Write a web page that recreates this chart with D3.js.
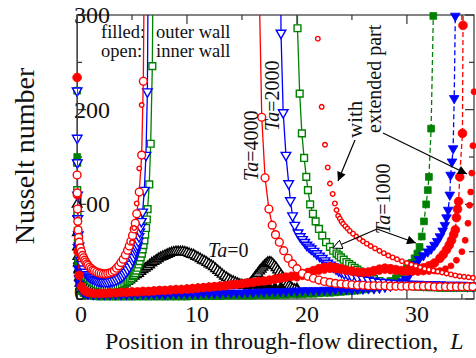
<!DOCTYPE html>
<html><head><meta charset="utf-8">
<script src="https://cdn.jsdelivr.net/npm/d3@7"></script>
<style>
body{margin:0;background:#fff}
svg{display:block}
text{font-family:"Liberation Serif","Times New Roman",serif;fill:#111}
</style>
</head><body>
<svg id="chart" width="476" height="358"></svg>
<script>
// Tick values
const xTicks = [0, 10, 20, 30];
const xMinorTicks = [5, 15, 25, 35];
const yTicks = [0, 100, 200, 300];
const yMinorTicks = [50, 150, 250];

// Nusselt number along the channel, [L, Nu]; values above 300 run off the top
// Ta = 0 (black triangles)
const ta0Inner = [[0,500],[0.01,100],[0.03,70],[0.05,55],[0.08,45],[0.12,38],[0.18,32],[0.25,27],[0.35,23],[0.45,20],[0.55,17.5],[0.7,15],[0.85,13.5],[1.0,12],[1.2,11],[1.4,10],[1.6,9.5],[1.8,9],[2.0,8.5],[2.2,8.5],[2.4,8.5],[2.6,8.5],[2.8,9],[3.0,9.5],[3.2,10],[3.4,11],[3.6,12],[3.8,13],[4.0,14],[4.2,15.5],[4.4,17],[4.6,18.5],[4.8,20],[5.0,22],[5.2,24],[5.4,25.5],[5.6,27],[5.8,29],[6.0,31],[6.2,32.5],[6.4,34],[6.6,36],[6.8,38],[7.0,39.5],[7.2,41],[7.4,42.5],[7.6,44],[7.8,45],[8.0,46],[8.2,47],[8.4,48],[8.6,49],[8.8,49.5],[9.0,50],[9.2,50],[9.4,50],[9.6,50],[9.8,49.5],[10.0,49],[10.2,48],[10.4,47],[10.6,46.5],[10.8,45],[11.0,44],[11.2,42.5],[11.4,41],[11.6,40],[11.8,38.5],[12.0,37],[12.2,35.5],[12.4,34],[12.6,32],[12.8,30],[13.0,28],[13.2,26],[13.4,24],[13.6,22.5],[13.8,21],[14.0,19.5],[14.2,18.5],[14.4,17.5],[14.6,16.5],[14.8,15.5],[15.0,15],[15.2,14.5],[15.4,14.5],[15.55,15],[15.7,16],[15.85,18],[16.0,20],[16.15,22.5],[16.3,25],[16.45,27],[16.6,29.5],[16.75,31.5],[16.9,33.5],[17.05,35.5],[17.2,37],[17.35,38.5],[17.5,39],[17.65,38.5],[17.8,37],[17.95,35],[18.1,33],[18.25,30.5],[18.4,28],[18.55,25.5],[18.7,23],[18.85,20.5],[19.0,18],[19.15,16],[19.3,14],[19.45,12.5],[19.6,11],[19.8,10],[20.0,9]];
const ta0Outer = [[0,500],[0.01,90],[0.03,55],[0.05,40],[0.08,30],[0.12,22],[0.18,16],[0.25,13],[0.35,10],[0.5,8],[0.65,7],[0.8,6],[1.0,5.5],[1.2,5],[1.5,4.5],[2.0,4.5],[2.5,4.5],[3.0,5],[3.5,5],[4.0,5.5],[4.5,5.5],[5.0,6],[5.5,6],[6.0,6.5],[6.5,6.5],[7.0,7],[7.5,7.5],[8.0,8],[8.5,8.5],[9.0,9],[9.5,9.5],[10.0,10],[10.5,10.5],[11.0,11],[11.5,11.5],[12.0,12],[12.5,12.5],[13.0,13],[13.5,13.5],[14.0,14],[14.5,14],[15.0,14],[15.5,14],[16.0,14],[16.5,13.5],[17.0,13.5],[17.5,13],[18.0,13],[18.5,12.5],[19.0,12.5],[19.5,12],[20.0,12]];

// Ta = 1000 (green squares)
const ta1000InnerA = [[0,500],[0.01,144],[0.02,115],[0.04,90],[0.07,72],[0.1,60],[0.15,51],[0.2,45],[0.28,40],[0.35,36],[0.45,32.5],[0.55,29.5],[0.7,26],[0.85,23.5],[1.0,21.5],[1.15,20],[1.3,18.5],[1.5,17],[1.7,16],[1.9,15],[2.1,14.5],[2.3,14],[2.5,13.5],[2.7,13],[2.9,13],[3.1,13],[3.3,13],[3.5,13.5],[3.7,14],[3.9,14.5],[4.1,15.5],[4.3,16.5],[4.5,17.5],[4.65,19],[4.8,20.5],[4.95,22],[5.1,24],[5.2,25.5],[5.3,27.5],[5.4,30],[5.5,33],[5.6,36.5],[5.7,40],[5.8,44],[5.9,48],[5.98,52.5],[6.05,57],[6.13,62],[6.2,68],[6.28,75],[6.35,84],[6.42,95],[6.57,121],[6.7,164],[6.85,246],[6.95,500]];
const ta1000InnerB = [[20.0,500],[20.05,286],[20.25,217],[20.45,175],[20.65,149],[20.85,129],[21.0,115],[21.2,100],[21.45,90],[21.7,82],[22.0,74],[22.3,67],[22.65,60],[23.0,55],[23.3,51],[23.6,48],[23.8,46],[24.0,44],[24.25,41.5],[24.5,39],[24.75,37],[25.0,35],[25.25,33],[25.5,31],[25.75,29],[26.0,27],[26.25,25.5],[26.5,24],[26.75,22.5],[27.0,21],[27.5,19],[28.0,17],[28.5,16],[29.0,15],[29.5,14.5],[30.0,14],[30.5,13.5],[31.0,13],[31.5,13],[32.0,12.5],[32.5,12.5],[33.0,12],[33.5,12],[34.0,12],[34.5,12],[35.0,12],[35.5,12],[36.0,12]];
const ta1000Outer = [[0,500],[0.01,220],[0.02,150],[0.04,90],[0.06,60],[0.1,38],[0.15,25],[0.22,17],[0.3,12],[0.45,8],[0.6,6],[0.8,5],[1.0,4],[1.5,3],[2,2.5],[2.5,2.5],[3,2.5],[3.5,2.5],[4,2.5],[4.5,2.5],[5,2.5],[5.5,2.5],[6,2.5],[6.5,2.5],[7,2.5],[7.5,2.5],[8,2.5],[8.5,2.5],[9,2.5],[9.5,2.5],[10,2.5],[10.5,3],[11,3],[11.5,3],[12,3],[12.5,3],[13,3],[13.5,3.5],[14,3.5],[14.5,3.5],[15,3.5],[15.5,3.5],[16,3.5],[16.5,4],[17,4],[17.5,4],[18,4],[18.5,4.5],[19,4.5],[19.5,5],[20,5],[20.5,5],[21,5.5],[21.5,5.5],[22,6],[22.5,6.5],[23,6.5],[23.5,7],[24,7.5],[24.5,8],[25,8.5],[25.5,9],[26,10],[26.5,11],[27,12],[27.5,14],[28,16],[28.5,19],[29,22],[29.5,27],[30,33],[30.4,38],[30.7,43],[30.95,48],[31.15,55],[31.35,66],[31.55,82],[31.75,100],[31.9,115],[32.0,129],[32.2,180],[32.4,299],[32.5,500]];

// Ta = 2000 (blue triangles)
const ta2000InnerA = [[0,500],[0.01,220],[0.02,170],[0.03,144],[0.05,110],[0.08,85],[0.12,68],[0.18,56],[0.25,48],[0.35,41],[0.45,36.5],[0.6,32],[0.75,28.5],[0.9,26],[1.05,24.5],[1.2,23],[1.4,21.5],[1.6,20.5],[1.8,19.5],[2.0,19],[2.2,18.5],[2.4,18],[2.6,18],[2.8,18],[3.0,18.5],[3.2,19],[3.4,19.5],[3.6,20.5],[3.8,21.5],[4.0,23],[4.15,24.5],[4.3,26.5],[4.45,28.5],[4.6,31],[4.75,34],[4.9,37],[5.05,41],[5.15,44],[5.27,48],[5.35,51],[5.42,54],[5.5,57],[5.57,61],[5.64,66],[5.7,71],[5.78,76],[5.85,82],[5.97,92],[6.12,115],[6.27,152],[6.4,219],[6.5,500]];
const ta2000InnerB = [[18.5,500],[18.55,281],[18.75,197],[19.0,152],[19.25,122],[19.4,104],[19.6,88],[19.8,78],[20.1,70],[20.3,66],[20.5,63],[20.7,60],[20.9,57],[21.1,55],[21.3,53],[21.55,50.5],[21.8,48],[22.05,45.5],[22.3,43],[22.55,40.5],[22.8,38],[23.05,36],[23.3,34],[23.55,32],[23.8,30],[24.05,28.5],[24.3,27],[24.65,25.5],[25.0,24],[25.5,22.5],[26.0,21],[26.5,20],[27.0,19],[27.5,18],[28.0,17.5],[28.5,17],[29.0,16.5],[29.5,16],[30.0,16],[30.5,15.5],[31.0,15.5],[31.5,15],[32.0,15],[32.5,15],[33.0,15],[33.5,14.5],[34.0,14.5],[34.5,14.5],[35.0,14.5],[35.5,14],[36.0,14]];
const ta2000Outer = [[0,500],[0.01,144],[0.03,85],[0.05,55],[0.1,32],[0.15,22],[0.22,16],[0.3,12],[0.45,9],[0.6,7],[0.8,6],[1,5],[1.5,4.5],[2,4.5],[2.5,4.5],[3,4.5],[3.5,4.5],[4,4.5],[4.5,4.5],[5,4.5],[5.5,5],[6,5],[6.5,5],[7,5],[7.5,5],[8,5],[8.5,5.5],[9,5.5],[9.5,5.5],[10,5.5],[10.5,5.5],[11,5.5],[11.5,6],[12,6],[12.5,6],[13,6],[13.5,6.5],[14,6.5],[14.5,6.5],[15,6.5],[15.5,7],[16,7],[16.5,7.5],[17,7.5],[17.5,8],[18,8],[18.5,8],[19,8],[19.5,8.5],[20,8.5],[20.5,9],[21,9],[21.5,9],[22,9],[22.5,9.5],[23,9.5],[23.5,10],[24,10],[24.5,10],[25,10],[25.5,10.5],[26,10.5],[26.5,11],[27,11],[27.5,11.5],[28,12.5],[28.5,13.5],[29,15],[29.3,16.5],[29.6,18.5],[29.9,21],[30.2,25],[30.5,31],[30.8,37],[31.1,42],[31.5,46],[31.9,50],[32.2,53],[32.5,57],[32.75,61],[33,66],[33.25,72],[33.45,78],[33.6,86],[33.75,94],[33.9,110],[33.97,131],[34.1,145],[34.2,159],[34.3,212],[34.4,299],[34.5,500]];

// Ta = 4000 (red circles)
const ta4000InnerA = [[0,500],[0.01,131],[0.02,112],[0.04,95],[0.07,82],[0.1,73],[0.15,65],[0.2,60],[0.3,54],[0.4,50],[0.5,46],[0.6,43.5],[0.7,41],[0.8,39],[0.9,37],[1.0,35.5],[1.15,33.5],[1.3,32],[1.45,30.5],[1.6,29.5],[1.8,28.5],[2.0,27.5],[2.2,27],[2.4,26.5],[2.6,26.5],[2.8,27],[3.0,27.5],[3.2,28.5],[3.4,30],[3.6,32.5],[3.8,35],[4.0,38.5],[4.2,42],[4.4,46.5],[4.6,51.5],[4.75,56],[4.9,61],[5.05,67],[5.2,74],[5.3,80],[5.43,90],[5.66,113],[5.88,152],[6.03,230],[6.15,500]];
const ta4000InnerB = [[16.45,500],[16.8,192],[17.1,128],[17.45,95],[17.75,78],[18.05,68],[18.4,60],[18.8,51],[19.2,43],[19.6,37],[20.0,32],[20.5,27],[21.0,24],[21.5,22],[22.0,20],[22.5,18.5],[23.0,17.5],[23.5,16.5],[24.0,16],[24.5,15.5],[25.0,15],[25.5,14.5],[26.0,14.5],[26.5,14],[27.0,14],[27.5,14],[28.0,14],[28.5,13.5],[29.0,13.5],[29.5,13.5],[30.0,13.5],[30.5,13.5],[31.0,13.5],[31.5,13.5],[32.0,13.5],[32.5,13],[33.0,13],[33.5,13],[34.0,13],[34.5,13],[35.0,13],[35.5,13],[36.0,13]];
const ta4000Outer = [[0,500],[0.01,234],[0.04,110],[0.1,50],[0.2,25],[0.4,13],[0.7,8.5],[1.0,7],[1.5,6],[2.0,6],[2.5,6],[3,6.5],[3.5,6.5],[4,7],[4.5,7],[5,7.5],[5.5,7.5],[6,8],[6.5,8],[7,8.5],[7.5,9],[8,9],[8.5,9.5],[9,10],[9.5,10],[10,10.5],[10.5,11],[11,11.5],[11.5,12],[12,12.5],[12.5,13],[13,13.5],[13.5,14],[14,15],[14.5,15.5],[15,16],[15.5,17],[16,17.5],[16.5,18.5],[17,19],[17.5,20],[18,21],[18.5,22],[19,23],[19.5,24],[20,25],[20.5,26.5],[21,28],[21.5,30],[22,32],[22.5,33.5],[23,34],[23.5,33.5],[24,32],[24.5,30.5],[25,29.5],[25.5,28.5],[26,28],[26.5,28.5],[27,30],[27.5,31.5],[28,32.5],[28.5,32],[29,31],[29.5,30],[30,30],[30.5,30.5],[31,31.5],[31.5,33],[32,35],[32.5,38],[33,43],[33.3,47],[33.6,52],[33.85,57],[34.05,62],[34.25,68],[34.4,73],[34.5,86],[34.6,95],[34.7,103],[34.8,129],[35.05,175],[35.1,289],[35.2,500]];

// Ta = 4000 with the extended part (small red circles)
const extInnerA = [[5.0,60],[5.2,75],[5.43,101],[5.66,138],[5.88,205]];
const extInnerB = [[21.9,275],[22.25,203],[22.55,163],[22.8,139],[23.0,122],[23.25,111],[23.45,101],[23.6,94],[23.75,88],[23.9,85],[24.05,82],[24.2,79.5],[24.4,77],[24.6,74.5],[24.8,72],[25.1,69],[25.4,66],[25.7,63.5],[26.0,61],[26.35,58.5],[26.7,56],[27.1,53.5],[27.5,51],[27.9,48.5],[28.3,46],[28.7,44],[29.1,42],[29.55,40],[30.0,38],[30.4,36.5],[30.8,35],[31.2,33.5],[31.6,32],[32.0,31],[32.4,30],[32.8,29],[33.2,28],[33.6,27],[34.0,26],[34.4,25],[34.8,24],[35.2,23.5],[35.6,23],[36.0,22.5]];
const extOuter = [[20,22],[20.5,23.5],[21,25],[21.5,27],[22,29],[22.5,30],[23,31],[23.5,30.5],[24,30],[24.5,29],[25,28.5],[25.5,28],[26,27.5],[26.5,27.5],[27,28],[27.5,29],[28,30],[28.5,29.5],[29,29],[29.5,28.5],[30,28],[30.5,28],[31,28],[31.5,28.5],[32,29],[32.5,29.5],[33,30],[33.5,32],[34,35],[34.5,41],[35,50],[35.3,62],[35.55,80],[35.7,99],[35.8,113],[35.9,133],[36.0,162],[36.1,219]];

const svg = d3.select("#chart");
const x = d3.scaleLinear().domain([0, 36.1]).range([77, 474]);
const y = d3.scaleLinear().domain([0, 300]).range([299, 15]);

const defs = svg.append("defs");
defs.append("clipPath").attr("id", "plot")
  .append("rect").attr("x", 77).attr("y", 15).attr("width", 397).attr("height", 284);

// frame and ticks (ticks point inward), drawn beneath the data
const axisColor = "#333";
svg.append("rect").attr("x", 77).attr("y", 15).attr("width", 397).attr("height", 284)
  .attr("fill", "none").attr("stroke", axisColor).attr("stroke-width", 1.2);
const tickG = svg.append("g").attr("stroke", axisColor).attr("stroke-width", 1.2);
[[xTicks, 9], [xMinorTicks, 5]].forEach(([vals, len]) => vals.forEach(v => {
  tickG.append("line").attr("x1", x(v)).attr("x2", x(v)).attr("y1", 299).attr("y2", 299 - len);
  tickG.append("line").attr("x1", x(v)).attr("x2", x(v)).attr("y1", 15).attr("y2", 15 + len);
}));
[[yTicks, 9], [yMinorTicks, 5]].forEach(([vals, len]) => vals.forEach(v => {
  tickG.append("line").attr("x1", 77).attr("x2", 77 + len).attr("y1", y(v)).attr("y2", y(v));
  tickG.append("line").attr("x1", 474).attr("x2", 474 - len).attr("y1", y(v)).attr("y2", y(v));
}));

// tick labels
svg.append("g").selectAll("text").data(xTicks).join("text")
  .attr("x", d => x(d) - 2).attr("y", 322).attr("font-size", 24).text(d => d);
svg.append("g").selectAll("text").data(yTicks).join("text")
  .attr("x", 74).attr("y", d => d === 0 ? y(d) + 1 : y(d) + 8).attr("font-size", 24).text(d => d);

// axis titles
svg.append("text").attr("transform", "translate(34,156) rotate(-90)")
  .attr("text-anchor", "middle").attr("font-size", 28).text("Nusselt number");
const xt = svg.append("text").attr("x", 105).attr("y", 349).attr("font-size", 24);
xt.append("tspan").text("Position in through-flow direction,\u00a0\u00a0");
xt.append("tspan").attr("font-style", "italic").text("L");

// legend note
svg.append("text").attr("x", 101).attr("y", 38).attr("font-size", 18.5).text("filled:");
svg.append("text").attr("x", 156).attr("y", 38).attr("font-size", 18.5).text("outer wall");
svg.append("text").attr("x", 101).attr("y", 57).attr("font-size", 18.5).text("open:");
svg.append("text").attr("x", 156).attr("y", 57).attr("font-size", 18.5).text("inner wall");

const RED = "#ff0000", BLUE = "#0000ff", GREEN = "#008000", BLACK = "#000000";
const shapes = {
  circle: d3.symbolCircle, square: d3.symbolSquare,
  triUp: d3.symbolTriangle, triDown: d3.symbolTriangle
};

const series = [
  {data: ta0Outer, color: BLACK, shape: "triUp", size: 34, filled: true, dash: "5,3"},
  {data: ta0Inner, color: BLACK, shape: "triUp", size: 40, filled: false, dash: null},
  {data: ta1000Outer, color: GREEN, shape: "square", size: 46, filled: true, dash: "5,3"},
  {data: ta1000InnerA, color: GREEN, shape: "square", size: 46, filled: false, dash: null},
  {data: ta1000InnerB, color: GREEN, shape: "square", size: 46, filled: false, dash: null},
  {data: ta2000Outer, color: BLUE, shape: "triDown", size: 40, filled: true, dash: "5,3"},
  {data: ta2000InnerA, color: BLUE, shape: "triDown", size: 40, filled: false, dash: null},
  {data: ta2000InnerB, color: BLUE, shape: "triDown", size: 40, filled: false, dash: null},
  {data: ta4000Outer, color: RED, shape: "circle", size: 60, filled: true, dash: "5,3"},
  {data: extOuter, color: RED, shape: "circle", size: 28, filled: true, dash: null, noLine: true},
  {data: ta4000InnerB, color: RED, shape: "circle", size: 48, filled: false, dash: null},
  {data: ta4000InnerA, color: RED, shape: "circle", size: 48, filled: false, dash: null},
  {data: extInnerA, color: RED, shape: "circle", size: 16, filled: false, dash: null, noLine: true},
  {data: extInnerB, color: RED, shape: "circle", size: 16, filled: false, dash: null, noLine: true}
];

const line = d3.line().x(d => x(d[0])).y(d => y(Math.min(d[1], 400)));
const marks = svg.append("g");

series.forEach(s => {
  const g = marks.append("g");
  if (!s.noLine) {
    g.append("path").datum(s.data).attr("clip-path", "url(#plot)")
      .attr("d", line).attr("fill", "none").attr("stroke", s.color)
      .attr("stroke-width", 1.3).attr("stroke-dasharray", s.dash);
  }
  const sym = d3.symbol().type(shapes[s.shape]).size(s.size);
  g.selectAll("path.m").data(s.data.filter(d => d[1] <= 300 && d[0] <= 36.15))
    .join("path").attr("class", "m")
    .attr("d", sym)
    .attr("transform", d => `translate(${x(d[0])},${y(d[1])})` + (s.shape === "triDown" ? " rotate(180)" : ""))
    .attr("fill", s.filled ? s.color : "#fff")
    .attr("stroke", s.color).attr("stroke-width", s.filled ? 0.8 : 1.4);
});

// curve labels
function taLabel(px, py, value, rotate) {
  const t = svg.append("text").attr("font-size", 20)
    .attr("transform", `translate(${px},${py})` + (rotate ? " rotate(-90)" : ""));
  t.append("tspan").attr("font-style", "italic").text("Ta");
  t.append("tspan").text("=" + value);
}
taLabel(258, 181, "4000", true);
taLabel(279, 131, "2000", true);
taLabel(390, 234, "1000", true);
taLabel(208, 257, "0", false);
svg.append("text").attr("font-size", 21).attr("transform", "translate(362,138) rotate(-90)").text("with");
svg.append("text").attr("font-size", 20).attr("transform", "translate(381,133) rotate(-90)").text("extended part");

// arrows
defs.append("marker").attr("id", "headFill").attr("viewBox", "0 0 10 10")
  .attr("refX", 10).attr("refY", 5).attr("markerWidth", 12).attr("markerHeight", 9)
  .attr("markerUnits", "userSpaceOnUse").attr("orient", "auto")
  .append("path").attr("d", "M0,0L10,5L0,10z").attr("fill", "#000");
defs.append("marker").attr("id", "headOpen").attr("viewBox", "0 0 10 10")
  .attr("refX", 10).attr("refY", 5).attr("markerWidth", 12).attr("markerHeight", 9)
  .attr("markerUnits", "userSpaceOnUse").attr("orient", "auto")
  .append("path").attr("d", "M0,0L10,5L0,10z").attr("fill", "#fff").attr("stroke", "#000").attr("stroke-width", 1);
function arrow(x1, y1, x2, y2, head) {
  svg.append("line").attr("x1", x1).attr("y1", y1).attr("x2", x2).attr("y2", y2)
    .attr("stroke", "#000").attr("stroke-width", 1.2).attr("marker-end", `url(#${head})`);
}
arrow(355, 140, 338, 181, "headFill");
arrow(383, 133, 467, 174, "headFill");
arrow(377, 229, 333, 248, "headOpen");
arrow(377, 229, 416, 243, "headFill");
</script>
</body></html>
